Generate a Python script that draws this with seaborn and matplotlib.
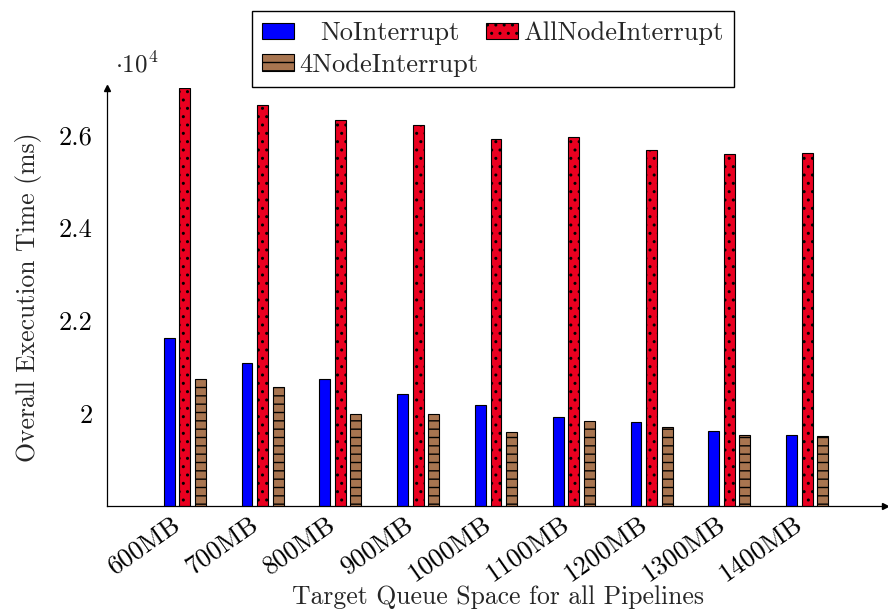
import pandas as pd
import matplotlib
matplotlib.use("Agg")
import matplotlib.pyplot as plt
import matplotlib.transforms as mtransforms
import seaborn as sns
from matplotlib.patches import Patch
from matplotlib.ticker import FuncFormatter

# Data
queue_space = ["600MB", "700MB", "800MB", "900MB", "1000MB",
               "1100MB", "1200MB", "1300MB", "1400MB"]
no_interrupt = [21630, 21090, 20730, 20410, 20170, 19910, 19810, 19610, 19530]
all_node_interrupt = [27000, 26640, 26320, 26220, 25900, 25960, 25680, 25590, 25610]
four_node_interrupt = [20730, 20560, 19980, 19980, 19590, 19830, 19700, 19530, 19510]

series = ["NoInterrupt", "AllNodeInterrupt", "4NodeInterrupt"]
colors = ["#0000FF", "#EA0020", "#A87550"]
hatches = ["", "..", "--"]

df = pd.DataFrame({
    "space": queue_space * 3,
    "time": no_interrupt + all_node_interrupt + four_node_interrupt,
    "series": [s for s in series for _ in queue_space],
})

sns.set_style("white")
plt.rcParams["font.family"] = "serif"
plt.rcParams["font.serif"] = ["cmr10", "DejaVu Serif"]
plt.rcParams["mathtext.fontset"] = "cm"
plt.rcParams["axes.unicode_minus"] = False
plt.rcParams["axes.formatter.use_mathtext"] = True
plt.rcParams["hatch.linewidth"] = 1.0

fig = plt.figure(figsize=(8.88, 6.09), dpi=100)
ax = fig.add_axes([0.1205, 0.169, 0.876, 0.686])

sns.barplot(data=df, x="space", y="time", hue="series", palette=colors,
            saturation=1, width=0.6, gap=0.3, ax=ax, legend=False,
            edgecolor="black", linewidth=0.8)

for container, h in zip(ax.containers, hatches):
    for bar in container:
        bar.set_hatch(h)
        bar.set_edgecolor("black")

ax.set_xlim(-1, 9)
ax.set_ylim(18000, 27000)
ax.set_yticks([20000, 22000, 24000, 26000])
ax.yaxis.set_major_formatter(FuncFormatter(lambda v, p: "%g" % (v / 1e4)))
ax.text(0.01, 1.025, r"$\cdot 10^4$", transform=ax.transAxes, fontsize=18,
        ha="left", va="bottom")

ax.set_xticks(range(len(queue_space)))
ax.set_xticklabels(queue_space, rotation=35, ha="right", va="center",
                   rotation_mode="anchor")
ax.tick_params(axis="x", labelsize=19, colors="#808080", length=3, width=0.8,
               labelcolor="black", pad=8)
ax.tick_params(axis="y", labelsize=19, colors="#808080", direction="inout",
               length=9, width=0.8, labelcolor="black", pad=6)
# nudge the rotated labels a little to the left, like pgfplots' east anchor
shift = mtransforms.ScaledTranslation(-5 / 72, 0, fig.dpi_scale_trans)
for lbl in ax.get_xticklabels():
    lbl.set_transform(lbl.get_transform() + shift)

for side in ["top", "right"]:
    ax.spines[side].set_visible(False)
for side in ["left", "bottom"]:
    ax.spines[side].set_color("black")
    ax.spines[side].set_linewidth(0.9)
ax.plot(1, 0, ">k", markersize=5, transform=ax.transAxes, clip_on=False)
ax.plot(0, 1, "^k", markersize=5, transform=ax.transAxes, clip_on=False)

ax.set_xlabel("Target Queue Space for all Pipelines", fontsize=18.5)
ax.xaxis.set_label_coords(0.503, -0.19)
ax.set_ylabel("Overall Execution Time (ms)", fontsize=18.5, labelpad=12)

# reorder so matplotlib's column-wise fill gives rows: No/All, then 4Node
order = [0, 2, 1]
handles = [Patch(facecolor=colors[i], edgecolor="black", hatch=hatches[i],
                 linewidth=0.8) for i in order]
labels = [series[i] for i in order]
leg = fig.legend(handles, labels, loc="upper center", bbox_to_anchor=(0.555, 0.982),
                 ncol=2, fontsize=19, frameon=True, fancybox=False,
                 edgecolor="black", framealpha=1, handlelength=1.2,
                 handleheight=0.6, borderpad=0.4, labelspacing=0.3,
                 columnspacing=0.3, handletextpad=0.2, borderaxespad=0)
leg.get_frame().set_linewidth(1.0)
# pgfplots centres the shorter entry text within its column
leg.get_texts()[0].set_x(21)

fig.savefig("out.png", dpi=100)
